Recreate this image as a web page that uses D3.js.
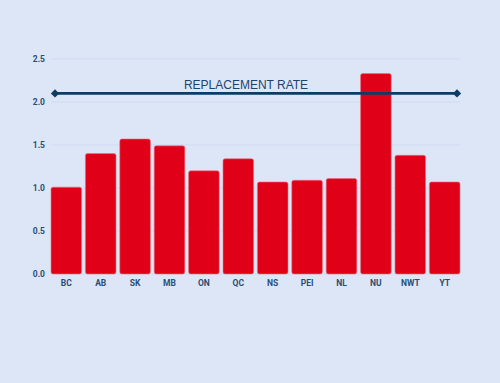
<!DOCTYPE html>
<html>
<head>
<meta charset="utf-8">
<script src="https://cdn.jsdelivr.net/npm/d3@7"></script>
<style>
  body { margin: 0; background: #dce6f7; }
  svg { display: block; }
</style>
</head>
<body>
<div id="container"></div>
<script>
/* CONSTANTS AND GLOBALS */
const width = 500,
  height = 383,
  margin = {top: 59, left: 51, bottom: 109, right: 40};

/* DATA */
const provinces = ["BC", "AB", "SK", "MB", "ON", "QC", "NS", "PEI", "NL", "NU", "NWT", "YT"];
const fertility = [1.01, 1.40, 1.57, 1.49, 1.20, 1.34, 1.07, 1.09, 1.11, 2.33, 1.38, 1.07];
const yTicks = [0, 0.5, 1, 1.5, 2, 2.5];
const replacementRate = 2.1;
const replacementLabel = "REPLACEMENT RATE";

// SCALES
const xScale = d3.scaleBand()
  .domain(provinces)
  .range([margin.left, width - margin.right])
  .paddingInner(0.11)
  .paddingOuter(0)

const yScale = d3.scaleLinear()
  .domain([0, 2.5])
  .range([height - margin.bottom, margin.top])

// CREATE SVG ELEMENT
const svg = d3.select("#container")
  .append("svg")
  .attr("width", width)
  .attr("height", height)

svg.append("rect")
  .attr("width", width)
  .attr("height", height)
  .attr("fill", "#dce6f7")

// GRIDLINES
svg.append("g")
  .selectAll("line")
  .data(yTicks)
  .join("line")
  .attr("x1", margin.left)
  .attr("x2", width - margin.right)
  .attr("y1", d => yScale(d))
  .attr("y2", d => yScale(d))
  .attr("stroke", "#cfdbf0")
  .attr("stroke-width", 1)

// AXES
const yAxis = d3.axisLeft(yScale)
  .tickValues(yTicks)
  .tickFormat(d3.format(".1f"))
  .tickSize(0)
  .tickPadding(6)

const xAxis = d3.axisBottom(xScale)
  .tickSize(0)
  .tickPadding(6)

const yG = svg.append("g")
  .attr("transform", `translate(${margin.left}, 0)`)
  .call(yAxis)

const xG = svg.append("g")
  .attr("transform", `translate(0, ${height - margin.bottom})`)
  .call(xAxis)

;[yG, xG].forEach(g => {
  g.select(".domain").remove()
  g.selectAll("text")
    .attr("fill", "#2c4d73")
    .style("font-family", "Roboto, 'DejaVu Sans', sans-serif")
    .style("font-weight", "700")
    .style("font-size", "8.5px")
})

// BARS
svg.append("g")
  .selectAll("rect")
  .data(provinces.map((p, i) => ({p, v: fertility[i]})))
  .join("rect")
  .attr("x", d => xScale(d.p))
  .attr("y", d => yScale(d.v))
  .attr("width", xScale.bandwidth())
  .attr("height", d => yScale(0) - yScale(d.v))
  .attr("rx", 2)
  .attr("fill", "#e00017")
  .attr("stroke", "#ef6f80")
  .attr("stroke-width", 0.6)

// REPLACEMENT RATE LINE
const lineX1 = xScale(provinces[0]) + 4,
  lineX2 = xScale(provinces[provinces.length - 1]) + xScale.bandwidth() - 3;

svg.append("line")
  .attr("x1", lineX1)
  .attr("x2", lineX2)
  .attr("y1", yScale(replacementRate))
  .attr("y2", yScale(replacementRate))
  .attr("stroke", "#0d3c66")
  .attr("stroke-width", 2.6)

svg.selectAll(".marker")
  .data([lineX1, lineX2])
  .join("path")
  .attr("class", "marker")
  .attr("d", d3.symbol(d3.symbolSquare, 34))
  .attr("transform", d => `translate(${d}, ${yScale(replacementRate)}) rotate(45)`)
  .attr("fill", "#0d3c66")

svg.append("text")
  .attr("x", (lineX1 + lineX2) / 2 - 10)
  .attr("y", yScale(replacementRate) - 4)
  .attr("text-anchor", "middle")
  .attr("fill", "#1c4470")
  .style("font-family", "'Liberation Sans', Arial, sans-serif")
  .style("font-size", "12px")
  .text(replacementLabel)
</script>
</body>
</html>
